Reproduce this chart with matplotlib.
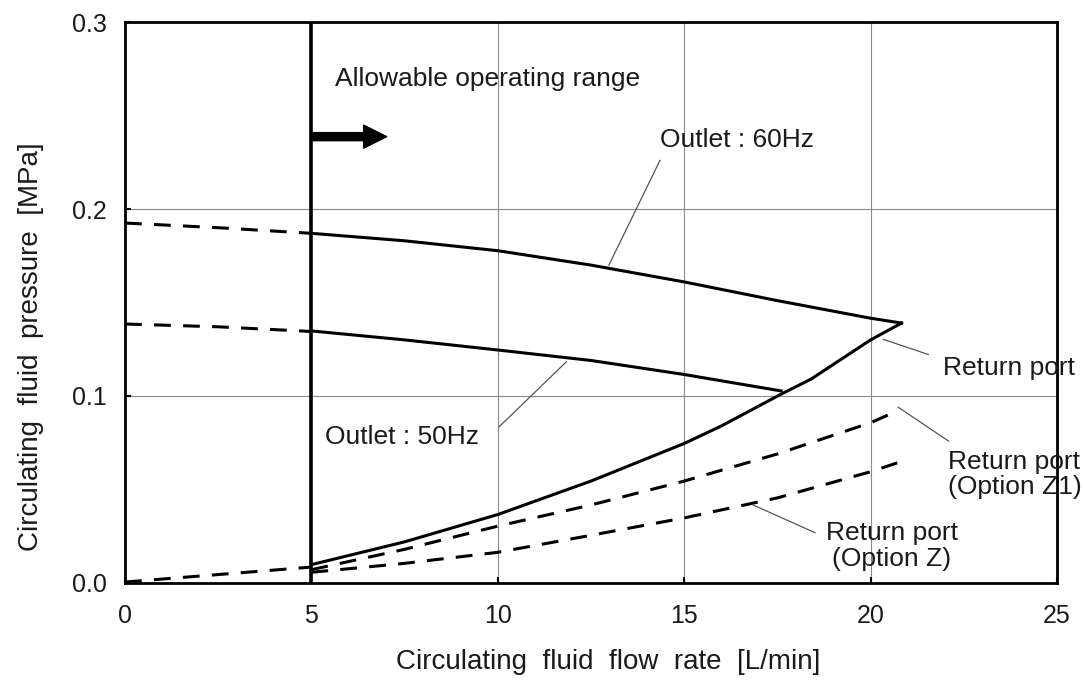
import matplotlib.pyplot as plt

plt.rcParams['font.family'] = ['Liberation Sans', 'DejaVu Sans']

# Pump curves, circulating fluid flow rate [L/min] vs pressure [MPa]
flow_60hz = [5, 7.5, 10, 12.5, 15, 17.5, 20, 20.83]
pres_60hz = [0.187, 0.183, 0.1777, 0.170, 0.161, 0.151, 0.1416, 0.139]

flow_50hz = [5, 7.5, 10, 12.5, 15, 17.6]
pres_50hz = [0.1348, 0.130, 0.1246, 0.119, 0.1115, 0.1027]

flow_ret = [5, 7.5, 10, 12.5, 15, 16, 17.6, 18.4, 20, 20.83]
pres_ret = [0.0098, 0.022, 0.0366, 0.0545, 0.0746, 0.084, 0.101, 0.109, 0.130, 0.139]

flow_z1 = [5, 7.5, 10, 12.5, 15, 17.5, 20, 20.6]
pres_z1 = [0.0071, 0.018, 0.0304, 0.0417, 0.0545, 0.069, 0.0857, 0.091]

flow_z = [5, 7.5, 10, 12.5, 15, 17.5, 20, 20.86]
pres_z = [0.0057, 0.0105, 0.0164, 0.0255, 0.0348, 0.0455, 0.0595, 0.0652]

# below the minimum flow (dashed)
flow_low = [0, 2.5, 5]
pres_60hz_low = [0.1925, 0.190, 0.187]
pres_50hz_low = [0.1385, 0.137, 0.1345]
pres_ret_low = [0.0005, 0.0045, 0.0085]

min_flow = 5
x_ticks = [0, 5, 10, 15, 20, 25]
y_ticks = [0.0, 0.1, 0.2, 0.3]

# label text, position and leader line (x pair, y pair)
labels = [
    ("Outlet : 60Hz", 14.35, 0.237, 'left', [14.35, 12.98], [0.226, 0.170]),
    ("Outlet : 50Hz", 5.36, 0.078, 'left', [10.04, 11.84], [0.0836, 0.1183]),
    ("Return port", 21.95, 0.115, 'left', [20.34, 21.55], [0.1303, 0.1222]),
    ("Return port\n(Option Z1)", 22.08, 0.058, 'left', [20.74, 22.09], [0.094, 0.0759]),
    ("Return port\n(Option Z)", 20.57, 0.0198, 'center', [16.85, 18.51], [0.0417, 0.0269]),
]

txt = '#1a1a1a'
fig = plt.figure(figsize=(10.84, 6.82), dpi=100)
ax = fig.add_axes([0.1153, 0.1452, 0.8598, 0.8225])

ax.set_xlim(0, 25)
ax.set_ylim(0, 0.3)
ax.set_xticks(x_ticks)
ax.set_yticks(y_ticks)
ax.set_xticklabels([str(v) for v in x_ticks])
ax.set_yticklabels([f"{v:.1f}" for v in y_ticks])
ax.grid(True, color='#8a8a8a', linewidth=0.8)
ax.set_axisbelow(True)
for s in ax.spines.values():
    s.set_linewidth(2.0)
    s.set_color('black')
ax.tick_params(axis='both', direction='in', length=4, width=1.5,
               labelsize=18, labelcolor=txt)
ax.tick_params(axis='x', pad=15)
ax.tick_params(axis='y', pad=13)

lw = 2.2
dash = (5.5, 4)
ax.plot(flow_60hz, pres_60hz, color='black', lw=lw)
ax.plot(flow_50hz, pres_50hz, color='black', lw=lw)
ax.plot(flow_ret, pres_ret, color='black', lw=lw)
ax.plot(flow_z1, pres_z1, color='black', lw=lw, dashes=dash)
ax.plot(flow_z, pres_z, color='black', lw=lw, dashes=dash)
ax.plot(flow_low, pres_60hz_low, color='black', lw=lw, dashes=dash)
ax.plot(flow_low, pres_50hz_low, color='black', lw=lw, dashes=dash)
ax.plot(flow_low, pres_ret_low, color='black', lw=lw, dashes=dash)

# minimum flow line and allowable range arrow
ax.axvline(min_flow, color='black', lw=2.6)
ax.annotate('', xy=(7.02, 0.2387), xytext=(min_flow, 0.2387),
            arrowprops=dict(arrowstyle='simple,head_length=1,head_width=1,tail_width=0.35',
                            mutation_scale=16.6, color='black',
                            shrinkA=0, shrinkB=0))
ax.text(5.63, 0.2695, "Allowable operating range", fontsize=19, color=txt,
        ha='left', va='center')

for text, tx, ty, ha, lx, ly in labels:
    ax.plot(lx, ly, color='#555555', lw=0.9)
    ax.text(tx, ty, text, fontsize=19, color=txt, ha=ha, va='center',
            multialignment='center' if ha == 'center' else 'left',
            linespacing=1.1)

fig.text(608 / 1084, 1 - 662 / 682, "Circulating  fluid  flow  rate  [L/min]",
         fontsize=20, color=txt, ha='center', va='center')
fig.text(31 / 1084, 1 - 347 / 682, "Circulating  fluid  pressure  [MPa]",
         fontsize=20, color=txt, ha='center', va='center', rotation=90)

fig.savefig('out.png', dpi=100)
